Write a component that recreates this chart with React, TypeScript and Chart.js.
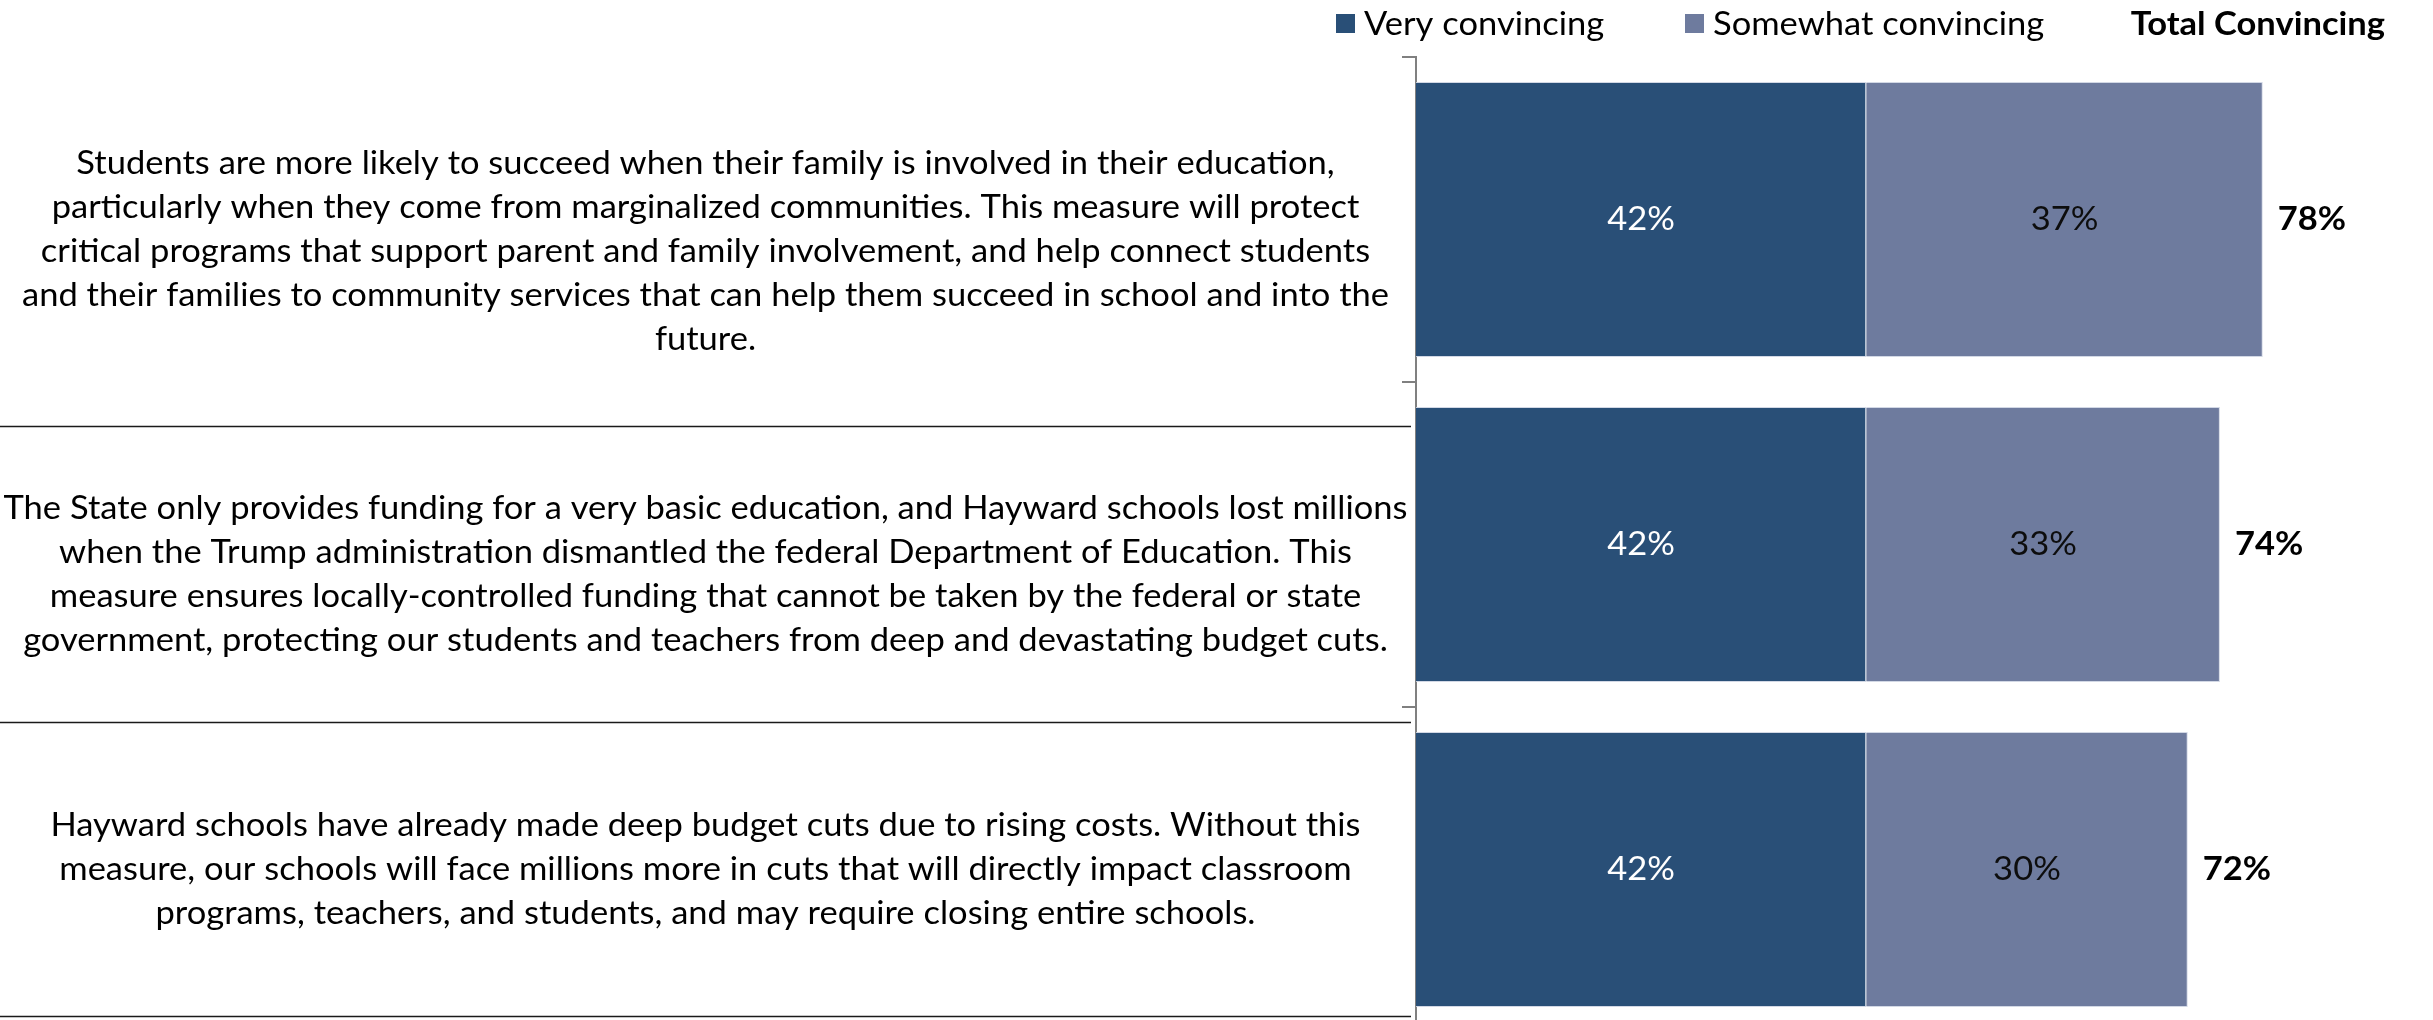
import React, { useEffect, useRef } from "react";
import { Chart, registerables } from "chart.js";

Chart.register(...registerables);

// ---------- data ----------
const categoryLines: string[][] = [
  [
    "Students are more likely to succeed when their family is involved in their education,",
    "particularly when they come from marginalized communities. This measure will protect",
    "critical programs that support parent and family involvement, and help connect students",
    "and their families to community services that can help them succeed in school and into the",
    "future.",
  ],
  [
    "The State only provides funding for a very basic education, and Hayward schools lost millions",
    "when the Trump administration dismantled the federal Department of Education. This",
    "measure ensures locally-controlled funding that cannot be taken by the federal or state",
    "government, protecting our students and teachers from deep and devastating budget cuts.",
  ],
  [
    "Hayward schools have already made deep budget cuts due to rising costs. Without this",
    "measure, our schools will face millions more in cuts that will directly impact classroom",
    "programs, teachers, and students, and may require closing entire schools.",
  ],
];
const categories = ["Family involvement", "State/federal funding", "Budget cuts"];
const seriesLabels = ["Very convincing", "Somewhat convincing"];
const veryConvincing = [42, 42, 42];
const somewhatConvincing = [37, 33, 30];
const totalConvincing = [78, 74, 72];
const totalHeader = "Total Convincing";

// ---------- style / layout ----------
const DARK = "#294F77";
const LIGHT = "#6E7B9E";
const FONT_FAMILY = "Lato, 'Open Sans', sans-serif";
const FONT_SIZE = 33;
const LINE_HEIGHT = 44;
const REF_LINE_WIDTH = 1404; // width of the longest label line in the reference
// category-axis positions (in category units) of the separator rules and top of text area
const separatorValues = [0.635, 1.546, 2.451];
const textTopValue = -0.44;

function drawText(
  ctx: CanvasRenderingContext2D,
  text: string,
  x: number,
  y: number,
  sx: number,
  align: CanvasTextAlign
) {
  ctx.save();
  ctx.translate(x, y);
  ctx.scale(sx, 1);
  ctx.textAlign = align;
  ctx.fillText(text, 0, 0);
  ctx.restore();
}

const overlayPlugin = {
  id: "overlay",
  afterDraw(chart: any) {
    const ctx: CanvasRenderingContext2D = chart.ctx;
    const area = chart.chartArea;
    const yScale = chart.scales.y;
    ctx.save();
    ctx.font = `${FONT_SIZE}px ${FONT_FAMILY}`;
    const sx = REF_LINE_WIDTH / ctx.measureText(categoryLines[1][0]).width;
    ctx.textBaseline = "middle";

    // separator rules
    const ruleRight = area.left - 5;
    ctx.strokeStyle = "#1a1a1a";
    ctx.lineWidth = 1.5;
    separatorValues.forEach((v) => {
      const y = Math.round(yScale.getPixelForValue(v)) + 0.5;
      ctx.beginPath();
      ctx.moveTo(0, y);
      ctx.lineTo(ruleRight, y);
      ctx.stroke();
    });

    // category labels (wrapped text), centred between rules
    const bounds = [textTopValue, ...separatorValues].map((v) => yScale.getPixelForValue(v));
    const cx = ruleRight / 2;
    ctx.fillStyle = "#000";
    categoryLines.forEach((lines, i) => {
      const center = (bounds[i] + bounds[i + 1]) / 2;
      const start = center - ((lines.length - 1) * LINE_HEIGHT) / 2;
      lines.forEach((line, j) => drawText(ctx, line, cx, start + j * LINE_HEIGHT, sx, "center"));
    });

    // segment value labels
    [veryConvincing, somewhatConvincing].forEach((vals, di) => {
      const meta = chart.getDatasetMeta(di);
      ctx.fillStyle = di === 0 ? "#ffffff" : "#0d0d0d";
      meta.data.forEach((bar: any, i: number) => {
        const x = (bar.x + bar.base) / 2;
        drawText(ctx, `${vals[i]}%`, x, bar.y, sx, "center");
      });
    });

    // totals
    ctx.font = `bold ${FONT_SIZE}px ${FONT_FAMILY}`;
    ctx.fillStyle = "#000";
    const lastMeta = chart.getDatasetMeta(1);
    lastMeta.data.forEach((bar: any, i: number) => {
      drawText(ctx, `${totalConvincing[i]}%`, bar.x + 15, bar.y, sx, "left");
    });

    // legend
    const legendY = 24;
    const colors = [DARK, LIGHT];
    const legendX = [1336, 1685];
    ctx.font = `${FONT_SIZE}px ${FONT_FAMILY}`;
    seriesLabels.forEach((lab, i) => {
      ctx.fillStyle = colors[i];
      ctx.fillRect(legendX[i], legendY - 10, 19, 19);
      ctx.fillStyle = "#000";
      drawText(ctx, lab, legendX[i] + 28, legendY, sx, "left");
    });
    ctx.font = `bold ${FONT_SIZE}px ${FONT_FAMILY}`;
    drawText(ctx, totalHeader, 2385, legendY, sx, "right");

    ctx.restore();
  },
};

export default function App() {
  const canvasRef = useRef<HTMLCanvasElement | null>(null);

  useEffect(() => {
    const canvas = canvasRef.current;
    if (!canvas) return;
    const chart = new Chart(canvas, {
      type: "bar",
      data: {
        labels: categories,
        datasets: [
          {
            label: seriesLabels[0],
            data: veryConvincing,
            backgroundColor: DARK,
            borderColor: "rgba(205,212,226,0.9)",
            borderWidth: 1,
          },
          {
            label: seriesLabels[1],
            data: somewhatConvincing,
            backgroundColor: LIGHT,
            borderColor: "rgba(205,212,226,0.9)",
            borderWidth: 1,
          },
        ],
      },
      options: {
        indexAxis: "y",
        responsive: false,
        animation: false,
        devicePixelRatio: 1,
        layout: { padding: { left: 1402, right: 3, top: 57, bottom: 8 } },
        datasets: { bar: { categoryPercentage: 1, barPercentage: 0.846 } },
        plugins: { legend: { display: false }, tooltip: { enabled: false } },
        scales: {
          x: { stacked: true, min: 0, max: 94.6, display: false },
          y: {
            stacked: true,
            offset: true,
            ticks: { display: false },
            grid: {
              offset: true,
              drawOnChartArea: false,
              drawTicks: true,
              tickLength: 14,
              tickColor: "#808080",
              lineWidth: 2,
            },
            border: { display: true, color: "#808080", width: 2 },
          },
        },
      },
      plugins: [overlayPlugin],
    });
    return () => chart.destroy();
  }, []);

  return (
    <div style={{ position: "fixed", left: 0, top: 0, width: 2433, height: 1040, background: "#fff" }}>
      <canvas ref={canvasRef} width={2433} height={1040} style={{ width: 2433, height: 1040, display: "block" }} />
    </div>
  );
}
